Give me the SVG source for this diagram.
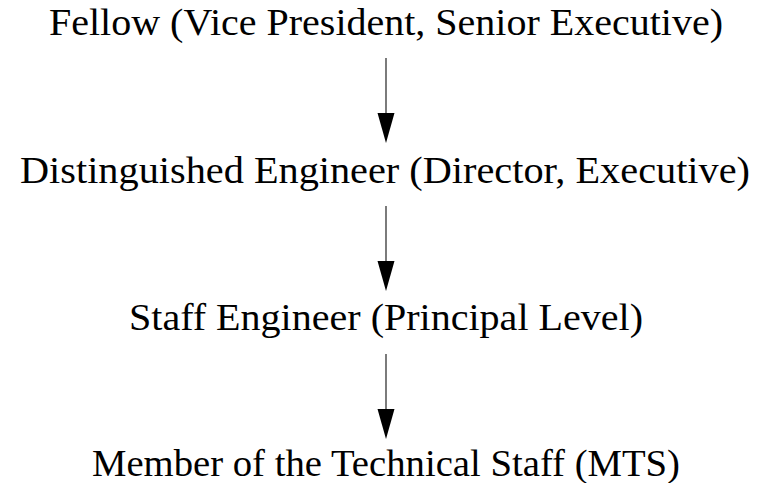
<svg xmlns="http://www.w3.org/2000/svg" width="758" height="483" viewBox="0 0 758 483">
  <style>
    .label { font-family: "Liberation Serif", "DejaVu Serif", serif; font-size: 38px; fill: #000; text-anchor: middle; }
    .edge { stroke: #444; stroke-width: 1.4; fill: none; marker-end: url(#head); }
  </style>
  <defs>
    <marker id="head" markerUnits="userSpaceOnUse" markerWidth="32" markerHeight="20" refX="0" refY="0" orient="auto" overflow="visible">
      <path d="M0,-8.5 L30,0 L0,8.5 Z" fill="#000"/>
    </marker>
  </defs>

  <rect width="758" height="483" fill="#fff"/>

  <g id="connectors">
    <line class="edge" x1="386" y1="58" x2="386" y2="113"/>
    <line class="edge" x1="386" y1="206" x2="386" y2="261"/>
    <line class="edge" x1="386" y1="354" x2="386" y2="409"/>
  </g>

  <g id="fellow">
    <text class="label" x="386" y="35" textLength="674" lengthAdjust="spacingAndGlyphs">Fellow (Vice President, Senior Executive)</text>
  </g>
  <g id="distinguished-engineer">
    <text class="label" x="385" y="183" textLength="730" lengthAdjust="spacingAndGlyphs">Distinguished Engineer (Director, Executive)</text>
  </g>
  <g id="staff-engineer">
    <text class="label" x="386" y="330" textLength="514" lengthAdjust="spacingAndGlyphs">Staff Engineer (Principal Level)</text>
  </g>
  <g id="mts">
    <text class="label" x="386" y="476" textLength="588" lengthAdjust="spacingAndGlyphs">Member of the Technical Staff (MTS)</text>
  </g>
</svg>
